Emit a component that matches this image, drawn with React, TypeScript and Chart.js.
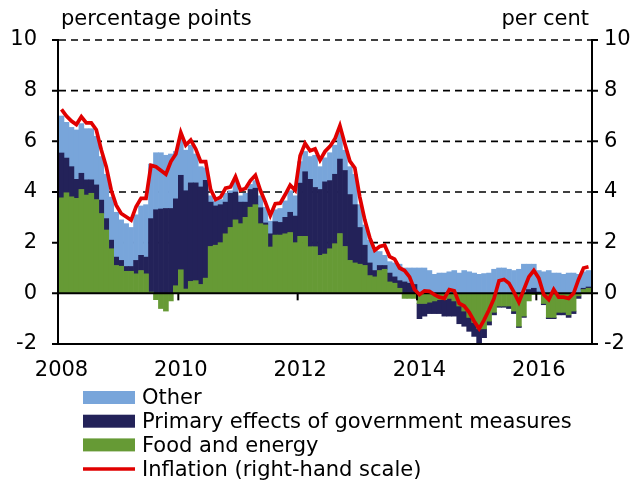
import React, { useEffect, useRef } from 'react';
import { Chart, registerables } from 'chart.js';

Chart.register(...registerables);

// ---------- data ----------
const startYear = 2008;
const monthCount = 107; // Jan 2008 .. Nov 2016
const months: string[] = Array.from(
  { length: monthCount },
  (_, i) => `${startYear + Math.floor(i / 12)}-${String((i % 12) + 1).padStart(2, '0')}`
);
const yearTickLabels = ['2008', '2010', '2012', '2014', '2016'];
const leftTitle = 'percentage points';
const rightTitle = 'per cent';
const seriesNames = [
  'Other',
  'Primary effects of government measures',
  'Food and energy',
  'Inflation (right-hand scale)',
];
const yTickValues = [-2, 0, 2, 4, 6, 8, 10];
const dashedGridValues = [2, 4, 6, 8, 10];

const foodEnergy = [
  3.77, 3.97, 3.81, 3.75, 4.1, 3.88, 3.95, 3.7, 3.15, 2.5, 1.76, 1.1, 1.07, 0.87, 0.87, 0.77, 0.9, 0.77,
  0.05, -0.25, -0.6, -0.7, -0.3, 0.3, 0.93, 0.17, 0.47, 0.5, 0.35, 0.6, 1.85, 1.9, 2.0, 2.35, 2.6, 2.9,
  2.75, 3.0, 3.4, 3.5, 2.75, 2.7, 1.83, 2.3, 2.3, 2.35, 2.4, 2.0, 2.25, 2.25, 1.84, 1.84, 1.5, 1.55, 1.76, 1.96, 2.36, 1.85, 1.3, 1.2,
  1.15, 1.1, 0.7, 0.65, 0.9, 0.95, 0.45, 0.4, 0.2, -0.2, -0.2, -0.2,
  -0.4, -0.4, -0.35, -0.3, -0.25, -0.25, -0.2, -0.3,
  -0.5, -0.7, -0.95, -1.15, -1.4, -1.4, -1.1, -0.75, -0.5, -0.5,
  -0.5, -0.7, -1.3, -0.9, -0.3, -0.05, -0.05, -0.4, -0.95, -0.95, -0.75, -0.75, -0.85, -0.7, -0.1, 0.15, 0.2,
];

const govMeasures = [
  1.77, 1.37, 1.19, 0.75, 0.64, 0.6, 0.53, 0.58, 0.53, 0.45, 0.34, 0.33, 0.23, 0.19, 0.19, 0.53, 0.6, 0.66,
  2.9, 3.3, 3.33, 3.35, 3.35, 3.43, 3.73, 3.88, 3.89, 3.86, 3.85, 3.86, 1.75, 1.55, 1.5, 1.25, 1.35, 1.1,
  0.85, 0.6, 0.7, 0.65, 0.63, 0.08, 0.52, 0.53, 0.5, 0.65, 0.8, 1.05, 2.1, 2.55, 2.66, 2.34, 2.6, 2.85, 2.69, 2.74, 2.94, 3.0, 2.6, 2.3,
  1.45, 0.8, 0.5, 0.25, 0.2, 0.15, 0.35, 0.25, 0.3, 0.45, 0.4, 0.35,
  -0.6, -0.5, -0.45, -0.5, -0.55, -0.65, -0.7, -0.6,
  -0.7, -0.6, -0.55, -0.55, -0.6, -0.35, -0.15, -0.1, -0.05, -0.05,
  -0.1, -0.1, -0.05, -0.05, 0.15, 0.2, 0.05, -0.05, -0.05, -0.05, -0.1, -0.1, -0.1, -0.1, -0.1, 0.05, 0.05,
];

const otherFactors = [
  1.46, 1.41, 1.55, 1.95, 1.96, 2.02, 2.02, 1.92, 1.72, 1.75, 1.7, 1.77, 1.6, 1.69, 1.54, 1.8, 1.95, 2.07,
  2.15, 2.25, 2.22, 2.1, 2.15, 1.87, 1.44, 1.6, 1.49, 1.14, 0.8, 0.49, 0.25, 0.2, 0.2, 0.35, 0.1, 0.4,
  0.25, 0.35, 0.2, 0.3, 0.47, 0.62, 0.5, 0.47, 0.55, 0.65, 0.85, 0.8, 0.85, 0.8, 0.9, 1.27, 0.9, 0.95, 1.1, 1.15, 1.05, 0.8, 1.1, 1.2,
  0.9, 0.8, 0.9, 0.8, 0.55, 0.4, 0.45, 0.55, 0.65, 0.55, 0.6, 0.65,
  1.0, 1.0, 0.9, 0.75, 0.8, 0.8, 0.85, 0.9,
  0.8, 0.9, 0.85, 0.8, 0.75, 0.78, 0.8, 0.95, 1.0, 1.0,
  0.95, 0.9, 0.95, 1.15, 1.0, 0.95, 0.85, 0.85, 0.9, 0.8, 0.8, 0.75, 0.8, 0.8, 0.75, 0.65, 0.65,
];

const inflation = [
  7.26, 7.0, 6.8, 6.66, 6.97, 6.73, 6.73, 6.46, 5.67, 5.0, 4.08, 3.48, 3.15, 3.02, 2.89, 3.42, 3.75, 3.75,
  5.05, 5.0, 4.85, 4.7, 5.2, 5.5, 6.35, 5.85, 6.05, 5.7, 5.2, 5.2, 4.1, 3.7, 3.8, 4.15, 4.2, 4.6,
  4.07, 4.14, 4.45, 4.66, 4.07, 3.6, 3.07, 3.54, 3.56, 3.9, 4.27, 4.07, 5.43, 5.92, 5.63, 5.7, 5.26, 5.6, 5.8, 6.1, 6.62, 5.9, 5.22, 4.95,
  3.8, 2.9, 2.2, 1.7, 1.85, 1.9, 1.45, 1.35, 1.0, 0.9, 0.65, 0.15,
  -0.05, 0.1, 0.08, -0.05, -0.15, -0.2, 0.15, 0.1,
  -0.4, -0.5, -0.75, -1.1, -1.4, -1.05, -0.65, -0.2, 0.5, 0.55,
  0.4, 0.05, -0.35, 0.15, 0.65, 0.9, 0.6, -0.05, -0.25, 0.15, -0.15, -0.15, -0.2, 0.0, 0.55, 1.0, 1.05,
];

// ---------- styling ----------
const COLORS = {
  other: '#78a5da',
  gov: '#232259',
  food: '#669a35',
  infl: '#e00000',
};
const FONT_FAMILY = '"DejaVu Sans", sans-serif';
const FONT_SIZE = 21;

const decorPlugin = {
  id: 'decor',
  beforeDatasetsDraw(chart: any) {
    const { ctx, chartArea: a, scales } = chart;
    const y = scales.y;
    ctx.save();
    ctx.strokeStyle = '#000';
    ctx.lineWidth = 1.6;
    ctx.setLineDash([7, 5]);
    for (const v of dashedGridValues) {
      const py = y.getPixelForValue(v);
      ctx.beginPath();
      ctx.moveTo(a.left, py);
      ctx.lineTo(a.right, py);
      ctx.stroke();
    }
    ctx.restore();
  },
  beforeDatasetDraw(chart: any, args: any) {
    if (args.index !== 3) return;
    const { ctx, chartArea: a, scales } = chart;
    const y = scales.y;
    const x = scales.x;
    const py0 = y.getPixelForValue(0);
    ctx.save();
    ctx.strokeStyle = '#000';
    ctx.lineWidth = 2;
    ctx.beginPath();
    ctx.moveTo(a.left, py0);
    ctx.lineTo(a.right, py0);
    ctx.stroke();
    // year tick marks hanging from the zero line
    const half = (x.getPixelForValue(1) - x.getPixelForValue(0)) / 2;
    months.forEach((m, i) => {
      const yr = m.slice(0, 4);
      if (i > 0 && m.endsWith('-01') && yearTickLabels.includes(yr)) {
        const px = x.getPixelForValue(i) - half;
        ctx.beginPath();
        ctx.moveTo(px, py0);
        ctx.lineTo(px, py0 + 7);
        ctx.stroke();
      }
    });
    ctx.restore();
  },
  afterDraw(chart: any) {
    const { ctx, chartArea: a, scales } = chart;
    const y = scales.y;
    ctx.save();
    ctx.strokeStyle = '#000';
    ctx.lineWidth = 2;
    // bottom border
    const pyMin = y.getPixelForValue(-2);
    ctx.beginPath();
    ctx.moveTo(a.left - 2, pyMin);
    ctx.lineTo(a.right + 2, pyMin);
    ctx.stroke();
    // side axes
    ctx.beginPath();
    ctx.moveTo(a.left - 1, a.top);
    ctx.lineTo(a.left - 1, a.bottom + 1);
    ctx.moveTo(a.right + 1, a.top);
    ctx.lineTo(a.right + 1, a.bottom + 1);
    ctx.stroke();
    // tick marks on side axes
    for (const v of yTickValues) {
      const py = y.getPixelForValue(v);
      ctx.beginPath();
      ctx.moveTo(a.left - 7, py);
      ctx.lineTo(a.left, py);
      ctx.moveTo(a.right, py);
      ctx.lineTo(a.right + 7, py);
      ctx.stroke();
    }
    // titles
    ctx.fillStyle = '#000';
    ctx.font = `${FONT_SIZE}px ${FONT_FAMILY}`;
    ctx.textBaseline = 'middle';
    ctx.textAlign = 'left';
    ctx.fillText(leftTitle, a.left + 2, a.top - 20);
    ctx.textAlign = 'right';
    ctx.fillText(rightTitle, a.right - 2, a.top - 20);
    // legend
    const legendColors = [COLORS.other, COLORS.gov, COLORS.food, COLORS.infl];
    const boxLeft = 83;
    const boxW = 52;
    const textX = 142;
    const baseY = a.bottom + 54;
    const step = 23.7;
    ctx.textAlign = 'left';
    seriesNames.forEach((name, i) => {
      const cy = baseY + i * step;
      if (i < 3) {
        ctx.fillStyle = legendColors[i];
        ctx.fillRect(boxLeft, cy - 7, boxW, 13);
      } else {
        ctx.strokeStyle = legendColors[i];
        ctx.lineWidth = 3.5;
        ctx.beginPath();
        ctx.moveTo(boxLeft, cy);
        ctx.lineTo(boxLeft + boxW, cy);
        ctx.stroke();
      }
      ctx.fillStyle = '#000';
      ctx.fillText(name, textX, cy + 1);
    });
    ctx.restore();
  },
};

export default function App() {
  const ref = useRef<HTMLCanvasElement>(null);

  useEffect(() => {
    if (!ref.current) return;
    Chart.defaults.font.family = FONT_FAMILY;
    Chart.defaults.font.size = FONT_SIZE;
    Chart.defaults.color = '#000';

    const chart = new Chart(ref.current, {
      type: 'bar',
      data: {
        labels: months,
        datasets: [
          {
            type: 'bar',
            label: seriesNames[2],
            data: foodEnergy,
            backgroundColor: COLORS.food,
            borderWidth: 0,
            barPercentage: 1,
            categoryPercentage: 1,
            yAxisID: 'y',
            order: 1,
          },
          {
            type: 'bar',
            label: seriesNames[1],
            data: govMeasures,
            backgroundColor: COLORS.gov,
            borderWidth: 0,
            barPercentage: 1,
            categoryPercentage: 1,
            yAxisID: 'y',
            order: 1,
          },
          {
            type: 'bar',
            label: seriesNames[0],
            data: otherFactors,
            backgroundColor: COLORS.other,
            borderWidth: 0,
            barPercentage: 1,
            categoryPercentage: 1,
            yAxisID: 'y',
            order: 1,
          },
          {
            type: 'line',
            label: seriesNames[3],
            data: inflation,
            borderColor: COLORS.infl,
            borderWidth: 3.7,
            pointRadius: 0,
            tension: 0,
            yAxisID: 'y1',
            order: 0,
          },
        ],
      } as any,
      options: {
        responsive: false,
        animation: false,
        events: [],
        layout: { padding: { left: 0, right: 0, top: 40, bottom: 97 } },
        plugins: {
          legend: { display: false },
          tooltip: { enabled: false },
          title: { display: false },
        },
        scales: {
          x: {
            type: 'category',
            stacked: true,
            grid: { display: false, drawTicks: false },
            border: { display: false },
            ticks: {
              autoSkip: false,
              maxRotation: 0,
              minRotation: 0,
              padding: 14,
              callback: (_v: any, i: number) => {
                const m = months[i];
                const yr = m.slice(0, 4);
                return m.endsWith('-01') && yearTickLabels.includes(yr) ? yr : '';
              },
            },
            afterFit: (s: any) => {
              s.height = 40;
            },
          },
          y: {
            type: 'linear',
            position: 'left',
            stacked: true,
            min: -2,
            max: 10,
            grid: { display: false, drawTicks: false },
            border: { display: false },
            ticks: { stepSize: 2, padding: 22 },
            afterFit: (s: any) => {
              s.width = 59;
            },
          },
          y1: {
            type: 'linear',
            position: 'right',
            min: -2,
            max: 10,
            grid: { display: false, drawTicks: false },
            border: { display: false },
            ticks: { stepSize: 2, padding: 13 },
            afterFit: (s: any) => {
              s.width = 49;
            },
          },
        },
      } as any,
      plugins: [decorPlugin],
    });

    return () => chart.destroy();
  }, []);

  return (
    <div style={{ position: 'absolute', left: 0, top: 0, width: 640, height: 481 }}>
      <canvas ref={ref} width={640} height={481} style={{ display: 'block', width: 640, height: 481 }} />
    </div>
  );
}
